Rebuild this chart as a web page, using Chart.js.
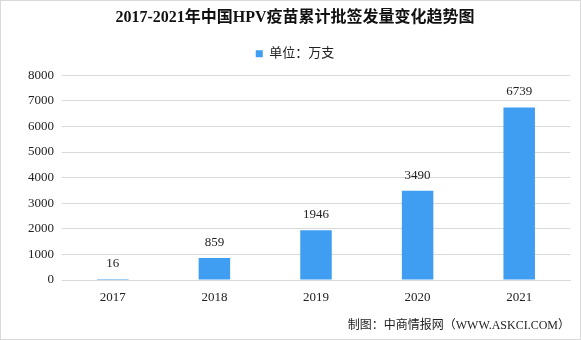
<!DOCTYPE html>
<html>
<head>
<meta charset="utf-8">
<script src="https://cdn.jsdelivr.net/npm/chart.js@4/dist/chart.umd.min.js"></script>
<style>
  html, body { margin: 0; padding: 0; background: #fff; }
  #wrap { width: 581px; height: 340px; box-sizing: border-box; border: 1px solid #d9d9d9; }
  canvas { display: block; }
</style>
</head>
<body>
<div id="wrap"><canvas id="chart" width="579" height="338"></canvas></div>
<script>
const years = ["2017", "2018", "2019", "2020", "2021"];
const doses = [16, 859, 1946, 3490, 6739];
const seriesName = "单位：万支";

const serif = "'Liberation Serif', 'Noto Sans CJK SC', serif";

// value labels above each bar
const barLabels = {
  id: "barLabels",
  afterDatasetsDraw(chart) {
    const ctx = chart.ctx;
    const meta = chart.getDatasetMeta(0);
    ctx.save();
    ctx.font = "13px " + serif;
    ctx.fillStyle = "#222";
    ctx.textAlign = "center";
    ctx.textBaseline = "bottom";
    meta.data.forEach((bar, i) => {
      ctx.fillText(doses[i], bar.x, bar.y - 9);
    });
    ctx.restore();
  }
};

// extra gap under the legend
const legendGap = {
  id: "legendGap",
  beforeInit(chart) {
    const fit = chart.legend.fit;
    chart.legend.fit = function () {
      fit.call(this);
      this.height += 5;
    };
  }
};

chart = new Chart(document.getElementById("chart").getContext("2d"), {
  type: "bar",
  data: {
    labels: years,
    datasets: [{
      label: seriesName,
      data: doses,
      backgroundColor: "#3f9ef2",
      barPercentage: 0.31,
      categoryPercentage: 1,
      minBarLength: 1
    }]
  },
  options: {
    responsive: false,
    animation: false,
    layout: { padding: { left: 19, right: 10, top: 5, bottom: 4 } },
    plugins: {
      title: {
        display: true,
        text: "2017-2021年中国HPV疫苗累计批签发量变化趋势图",
        color: "#111",
        font: { family: serif, size: 16, weight: "bold" },
        padding: { top: 2, bottom: 9 }
      },
      legend: {
        display: true,
        labels: {
          boxWidth: 7,
          boxHeight: 7,
          color: "#222",
          font: { family: serif, size: 13 },
          padding: 11
        }
      },
      subtitle: {
        display: true,
        position: "bottom",
        align: "end",
        text: "制图：中商情报网（WWW.ASKCI.COM）",
        color: "#222",
        font: { family: serif, size: 12 },
        padding: { top: 11, bottom: 2 }
      },
      tooltip: { enabled: false }
    },
    scales: {
      x: {
        grid: { display: false },
        border: { display: true, color: "#d9d9d9" },
        ticks: { color: "#222", font: { family: serif, size: 13 }, padding: 2 }
      },
      y: {
        min: 0,
        max: 8000,
        ticks: {
          stepSize: 1000,
          color: "#222",
          font: { family: serif, size: 13 },
          padding: 8,
          callback: (v) => String(v)
        },
        grid: { color: "#d9d9d9", drawTicks: false },
        border: { display: false }
      }
    }
  },
  plugins: [barLabels, legendGap]
});
</script>
</body>
</html>
